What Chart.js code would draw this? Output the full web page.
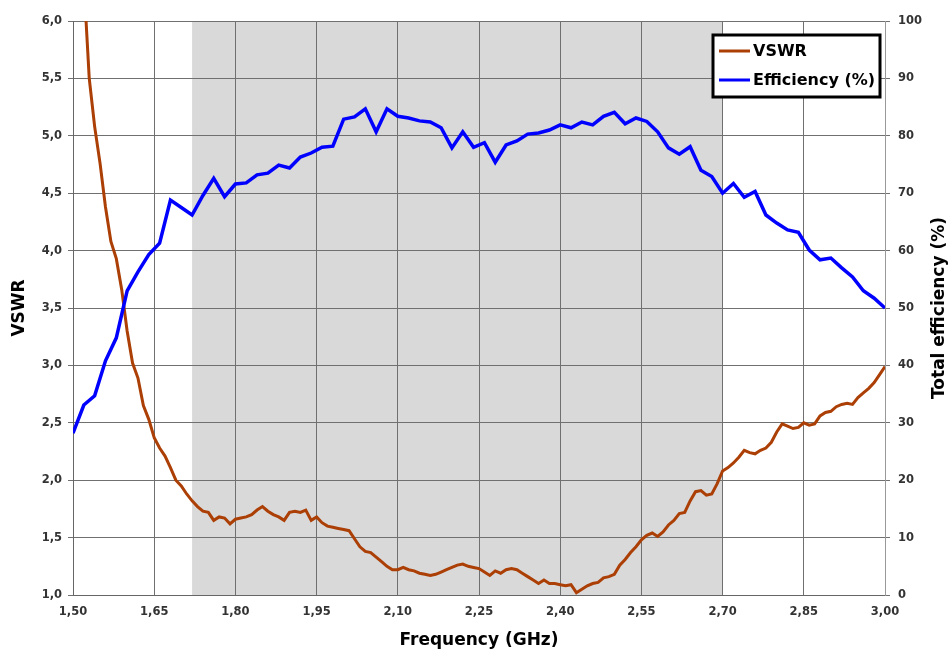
<!DOCTYPE html>
<html><head><meta charset="utf-8">
<script src="https://cdn.jsdelivr.net/npm/chart.js@4.4.1/dist/chart.umd.min.js"></script>
<style>html,body{margin:0;padding:0;background:#fff;overflow:hidden}#wrap{width:949px;height:653px;position:relative}</style>
</head><body><div id="wrap"><canvas id="c"></canvas></div>
<script>
// ---- data ----
const vswrFreq = [1.50,1.51,1.52,1.53,1.54,1.55,1.56,1.57,1.58,1.59,1.60,1.61,1.62,1.63,1.64,1.65,1.66,1.67,1.68,1.69,
1.70,1.71,1.72,1.73,1.74,1.75,1.76,1.77,1.78,1.79,1.80,1.81,1.82,1.83,1.84,1.85,1.86,1.87,1.88,1.89,
1.90,1.91,1.92,1.93,1.94,1.95,1.96,1.97,1.98,1.99,2.00,2.01,2.02,2.03,2.04,2.05,2.06,2.07,2.08,2.09,
2.10,2.11,2.12,2.13,2.14,2.15,2.16,2.17,2.18,2.19,2.20,2.21,2.22,2.23,2.24,2.25,2.26,2.27,2.28,2.29,
2.30,2.31,2.32,2.33,2.34,2.35,2.36,2.37,2.38,2.39,2.40,2.41,2.42,2.43,2.44,2.45,2.46,2.47,2.48,2.49,
2.50,2.51,2.52,2.53,2.54,2.55,2.56,2.57,2.58,2.59,2.60,2.61,2.62,2.63,2.64,2.65,2.66,2.67,2.68,2.69,
2.70,2.71,2.72,2.73,2.74,2.75,2.76,2.77,2.78,2.79,2.80,2.81,2.82,2.83,2.84,2.85,2.86,2.87,2.88,2.89,
2.90,2.91,2.92,2.93,2.94,2.95,2.96,2.97,2.98,2.99,3.00];
const vswrValues = [8.0,7.1,6.35,5.5,5.08,4.76,4.38,4.08,3.93,3.66,3.30,3.02,2.89,2.65,2.53,2.37,2.28,2.21,2.11,2.00,
1.95,1.88,1.82,1.77,1.73,1.72,1.65,1.68,1.67,1.62,1.66,1.67,1.68,1.70,1.74,1.77,1.73,1.70,1.68,1.65,
1.72,1.73,1.72,1.74,1.65,1.68,1.63,1.60,1.59,1.58,1.57,1.56,1.49,1.42,1.38,1.37,1.33,1.29,1.25,1.22,
1.22,1.24,1.22,1.21,1.19,1.18,1.17,1.18,1.20,1.22,1.24,1.26,1.27,1.25,1.24,1.23,1.20,1.17,1.21,1.19,
1.22,1.23,1.22,1.19,1.16,1.13,1.10,1.13,1.10,1.10,1.09,1.08,1.09,1.02,1.05,1.08,1.10,1.11,1.15,1.16,
1.18,1.26,1.31,1.37,1.42,1.48,1.52,1.54,1.51,1.55,1.61,1.65,1.71,1.72,1.82,1.90,1.91,1.87,1.88,1.97,
2.08,2.11,2.15,2.20,2.26,2.24,2.23,2.26,2.28,2.33,2.42,2.49,2.47,2.45,2.46,2.50,2.48,2.49,2.56,2.59,
2.60,2.64,2.66,2.67,2.66,2.72,2.76,2.80,2.85,2.92,2.99];
const effFreq = [1.50,1.52,1.54,1.56,1.58,1.60,1.62,1.64,1.66,1.68,1.70,1.72,1.74,1.76,1.78,1.80,1.82,1.84,1.86,1.88,
1.90,1.92,1.94,1.96,1.98,2.00,2.02,2.04,2.06,2.08,2.10,2.12,2.14,2.16,2.18,2.20,2.22,2.24,2.26,2.28,
2.30,2.32,2.34,2.36,2.38,2.40,2.42,2.44,2.46,2.48,2.50,2.52,2.54,2.56,2.58,2.60,2.62,2.64,2.66,2.68,
2.70,2.72,2.74,2.76,2.78,2.80,2.82,2.84,2.86,2.88,2.90,2.92,2.94,2.96,2.98,3.00];
const effValues = [28.2,33.1,34.7,40.8,44.8,53.0,56.3,59.3,61.3,68.8,67.5,66.2,69.6,72.6,69.4,71.6,71.8,73.2,73.5,74.9,
74.4,76.3,77.0,78.0,78.2,82.9,83.3,84.7,80.7,84.7,83.4,83.1,82.6,82.4,81.4,77.9,80.7,78.0,78.8,75.4,
78.4,79.1,80.3,80.5,81.0,81.9,81.4,82.4,81.9,83.4,84.1,82.1,83.1,82.5,80.7,77.9,76.8,78.1,74.0,72.9,
70.0,71.7,69.3,70.3,66.2,64.8,63.6,63.2,60.1,58.4,58.7,57.0,55.4,53.0,51.7,50.0];
const xTicks = [1.50,1.65,1.80,1.95,2.10,2.25,2.40,2.55,2.70,2.85,3.00];
const bandRange = [1.72, 2.70];
const seriesLabels = ['VSWR','Efficiency (%)'];
const seriesColors = ['#ab3f05','#0000ff'];
const titles = {x:'Frequency (GHz)', y:'VSWR', y2:'Total efficiency (%)'};

// ---- chart ----
const FONT = "'DejaVu Sans', 'Liberation Sans', sans-serif";
Chart.defaults.font.family = FONT;
Chart.defaults.font.weight = 'bold';
Chart.defaults.color = '#333';
const GRID = '#707070';

const bgPlugin = {
  id:'bg',
  beforeDraw(chart){
    const {ctx, chartArea:ca, scales} = chart;
    ctx.save();
    ctx.fillStyle='#fff'; ctx.fillRect(0,0,chart.width,chart.height);
    const x0 = scales.x.getPixelForValue(bandRange[0]);
    const x1 = scales.x.getPixelForValue(bandRange[1]);
    ctx.fillStyle='#d9d9d9';
    ctx.fillRect(x0, ca.top, x1-x0, ca.bottom-ca.top);
    ctx.restore();
  }
};
const overlayPlugin = {
  id:'overlay',
  afterDraw(chart){
    const {ctx, chartArea:ca} = chart;
    ctx.save();
    // right axis title (reads bottom-to-top)
    ctx.translate(940, (ca.top+ca.bottom)/2);
    ctx.rotate(-Math.PI/2);
    ctx.font = "bold 17px " + FONT;
    ctx.fillStyle='#000'; ctx.textAlign='center'; ctx.textBaseline='middle';
    ctx.fillText(titles.y2, 0, 0);
    ctx.restore();
    // legend box
    ctx.save();
    const bw=167, bh=62, bx=ca.right-5-bw, by=ca.top+14;
    ctx.fillStyle='#fff'; ctx.fillRect(bx,by,bw,bh);
    ctx.lineWidth=3; ctx.strokeStyle='#000'; ctx.strokeRect(bx,by,bw,bh);
    ctx.font = "bold 16px " + FONT;
    ctx.textBaseline='middle'; ctx.textAlign='left';
    seriesLabels.forEach((lab,i)=>{
      const yy = by + 16 + i*29;
      ctx.strokeStyle = seriesColors[i]; ctx.lineWidth = 3;
      ctx.beginPath(); ctx.moveTo(bx+6,yy); ctx.lineTo(bx+37,yy); ctx.stroke();
      ctx.fillStyle='#000'; ctx.fillText(lab, bx+40, yy+1);
    });
    ctx.restore();
  }
};

new Chart(document.getElementById('c'), {
  type:'line',
  data:{
    datasets:[
      {label:seriesLabels[0], data:vswrFreq.map((f,i)=>({x:f,y:vswrValues[i]})), yAxisID:'y',
       borderColor:seriesColors[0], borderWidth:3, pointRadius:0, tension:0, order:2},
      {label:seriesLabels[1], data:effFreq.map((f,i)=>({x:f,y:effValues[i]})), yAxisID:'y2',
       borderColor:seriesColors[1], borderWidth:3.5, pointRadius:0, tension:0, order:1}
    ]
  },
  options:{
    responsive:true, maintainAspectRatio:false, animation:false,
    layout:{padding:{top:21,left:0,right:0,bottom:0}},
    plugins:{legend:{display:false}, tooltip:{enabled:false}},
    scales:{
      x:{type:'linear', min:1.5, max:3.0,
        afterBuildTicks(s){ s.ticks = xTicks.map(v=>({value:v})); },
        afterFit(s){ s.height = 58; },
        ticks:{padding:10, font:{size:11.5}, maxRotation:0, autoSkip:false,
          callback:v=>v.toFixed(2).replace('.',',')},
        grid:{color:GRID, lineWidth:1, drawTicks:false},
        border:{color:'#666', width:1},
        title:{display:true, text:titles.x, color:'#000', font:{size:17, weight:'bold'}, padding:{top:0,bottom:2}}
      },
      y:{position:'left', min:1, max:6,
        afterBuildTicks(s){ const t=[]; for(let v=1; v<=6.0001; v+=0.5) t.push({value:Math.round(v*10)/10}); s.ticks=t; },
        afterFit(s){ s.width = 73; },
        ticks:{padding:6, font:{size:11.5}, callback:v=>v.toFixed(1).replace('.',',')},
        grid:{color:GRID, lineWidth:1, tickLength:5},
        border:{color:'#666', width:1},
        title:{display:true, text:titles.y, color:'#000', font:{size:17, weight:'bold'}, padding:{top:9,bottom:0}}
      },
      y2:{position:'right', min:0, max:100,
        ticks:{stepSize:10, padding:8, font:{size:11.5}},
        afterFit(s){ s.width = 64; },
        grid:{drawOnChartArea:false, color:GRID, tickLength:5},
        border:{color:'#999', width:1}
      }
    }
  },
  plugins:[bgPlugin, overlayPlugin]
});
</script></body></html>
